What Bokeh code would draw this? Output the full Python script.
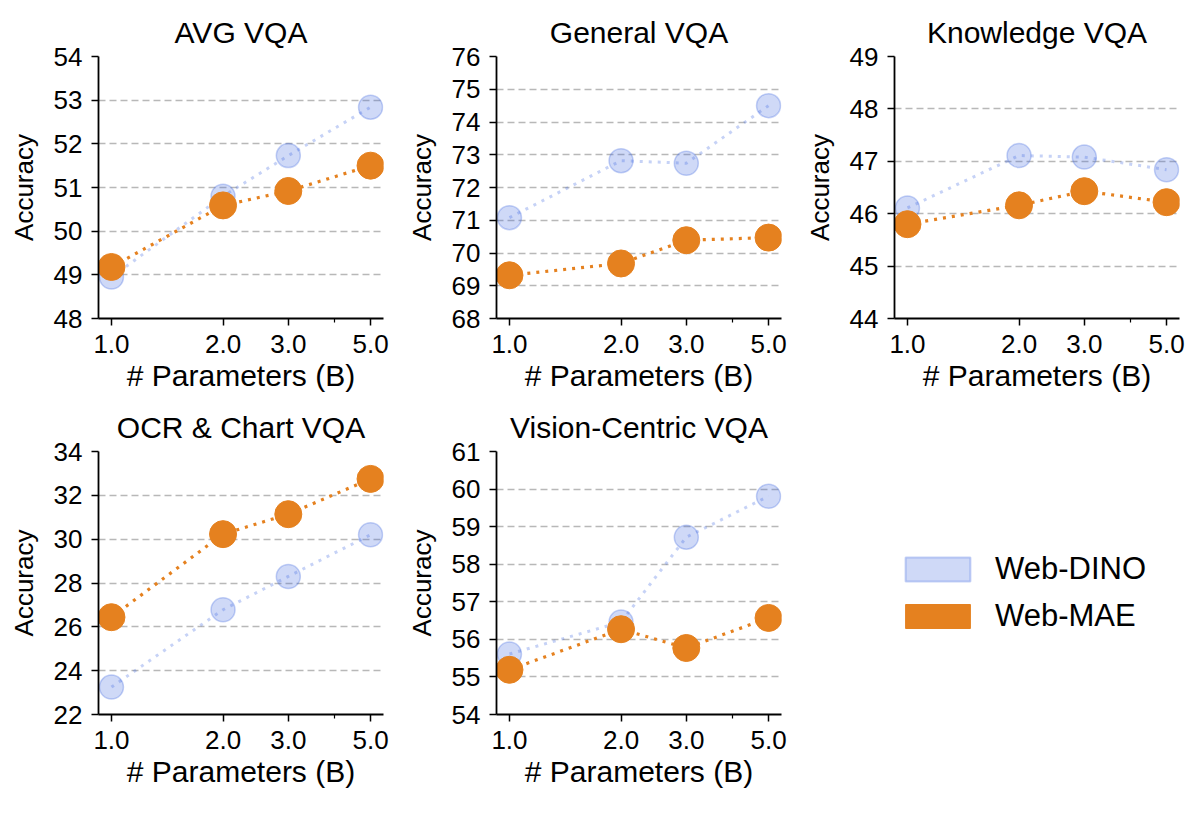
import math

from bokeh.embed import file_html
from bokeh.layouts import column, row
from bokeh.models import FixedTicker, Legend, LegendItem, PrintfTickFormatter, Range1d
from bokeh.plotting import figure
from bokeh.resources import INLINE

# Model sizes (billions of parameters)
params = [1.0, 2.0, 3.0, 5.0]

# Panel titles and y limits
titles = ["AVG VQA", "General VQA", "Knowledge VQA", "OCR & Chart VQA", "Vision-Centric VQA"]
y_limits = [(48, 54), (68, 76), (44, 49), (22, 34), (54, 61)]
y_steps = [1, 1, 1, 2, 1]

# Accuracy per benchmark group
avg_dino = [48.95, 50.80, 51.73, 52.84]
avg_mae = [49.18, 50.59, 50.92, 51.50]
general_dino = [71.08, 72.82, 72.74, 74.50]
general_mae = [69.32, 69.68, 70.39, 70.47]
knowledge_dino = [46.11, 47.11, 47.08, 46.84]
knowledge_mae = [45.80, 46.16, 46.43, 46.22]
ocr_dino = [23.25, 26.78, 28.30, 30.20]
ocr_mae = [26.44, 30.23, 31.14, 32.75]
vision_dino = [55.61, 56.46, 58.72, 59.81]
vision_mae = [55.19, 56.27, 55.77, 56.57]

series_dino = [avg_dino, general_dino, knowledge_dino, ocr_dino, vision_dino]
series_mae = [avg_mae, general_mae, knowledge_mae, ocr_mae, vision_mae]
legend_labels = ["Web-DINO", "Web-MAE"]

FONT = "Liberation Sans"
DINO_COLOR = "royalblue"
MAE_COLOR = "#E5811F"

# log-x padding like matplotlib's 5% margin
log_span = math.log10(max(params) / min(params))
x_start = min(params) / 10 ** (0.05 * log_span)
x_end = max(params) * 10 ** (0.05 * log_span)

col_widths = [399, 398, 403]
col_left = [98, 97, 97]
row_heights = [400, 413]
row_top = [56, 51]
row_frame_h = [262, 263]
FRAME_W = 285


def make_panel(i):
    r, c = divmod(i, 3)
    w, h = col_widths[c], row_heights[r]
    lo, hi = y_limits[i]
    p = figure(
        width=w, height=h, x_axis_type="log",
        x_range=Range1d(x_start, x_end), y_range=Range1d(lo, hi),
        output_backend="svg", toolbar_location=None,
        min_border_left=col_left[c], min_border_right=w - col_left[c] - FRAME_W,
        min_border_top=row_top[r], min_border_bottom=h - row_top[r] - row_frame_h[r],
        title=titles[i],
    )
    p.outline_line_color = None
    p.background_fill_color = "white"
    p.border_fill_color = "white"

    p.title.align = "center"
    p.title.text_font = FONT
    p.title.text_font_size = "30px"
    p.title.text_font_style = "normal"
    p.title.text_color = "black"
    p.title.text_line_height = 1.0
    p.title.standoff = 15

    # x axis
    xa = p.xaxis[0]
    xa.ticker = FixedTicker(ticks=params, minor_ticks=[4.0])
    xa.formatter = PrintfTickFormatter(format="%.1f")
    xa.axis_label = "# Parameters (B)"
    # y axis
    ya = p.yaxis[0]
    ya.ticker = FixedTicker(ticks=list(range(lo, hi + 1, y_steps[i])), minor_ticks=[])
    ya.axis_label = "Accuracy"

    for ax in (xa, ya):
        ax.axis_line_width = 1.8
        ax.axis_line_color = "black"
        ax.major_tick_line_width = 1.5
        ax.major_tick_line_color = "black"
        ax.major_tick_out = 7
        ax.major_tick_in = 0
        ax.minor_tick_line_width = 1.2
        ax.minor_tick_line_color = "black"
        ax.minor_tick_out = 4
        ax.minor_tick_in = 0
        ax.major_label_text_font = FONT
        ax.major_label_text_color = "black"
        ax.major_label_text_font_size = "26px"
        ax.major_label_text_line_height = 1.0
        ax.axis_label_text_font = FONT
        ax.axis_label_text_font_style = "normal"
        ax.axis_label_text_color = "black"
        ax.axis_label_text_line_height = 1.0

    xa.major_label_standoff = 9
    xa.axis_label_text_font_size = "30px"
    xa.axis_label_standoff = 3
    ya.major_label_standoff = 9
    ya.axis_label_text_font_size = "26px"
    ya.axis_label_standoff = 12

    p.xgrid.visible = False
    p.ygrid.grid_line_color = "#b8b8b8"
    p.ygrid.grid_line_width = 1.4
    p.ygrid.grid_line_dash = "7 4"

    dino = series_dino[i]
    mae = series_mae[i]
    p.line(params, dino, line_color=DINO_COLOR, line_alpha=0.3, line_width=3, line_dash="3 6")
    p.scatter(params, dino, marker="circle", size=24, fill_color=DINO_COLOR, fill_alpha=0.25,
              line_color=DINO_COLOR, line_alpha=0.3, line_width=1.5)
    p.line(params, mae, line_color=MAE_COLOR, line_width=3.2, line_dash="3 6")
    p.scatter(params, mae, marker="circle", size=27, fill_color=MAE_COLOR,
              line_color=MAE_COLOR, line_width=1)
    return p


panels = [make_panel(i) for i in range(5)]

# legend cell (its frame lines up with the neighbouring panels' frames)
lw, lh = col_widths[2], row_heights[1]
leg_fig = figure(width=lw, height=lh, output_backend="svg", toolbar_location=None,
                 x_axis_location=None, y_axis_location=None,
                 min_border=0, x_range=Range1d(0, 1), y_range=Range1d(0, 1))
leg_fig.outline_line_color = None
leg_fig.grid.visible = False
nan = [math.nan]
r_dino = leg_fig.quad(left=nan, right=nan, top=nan, bottom=nan, fill_color=DINO_COLOR,
                      fill_alpha=0.25, line_color=DINO_COLOR, line_alpha=0.3, line_width=2)
r_mae = leg_fig.quad(left=nan, right=nan, top=nan, bottom=nan, fill_color=MAE_COLOR,
                     line_color=MAE_COLOR, line_width=1)
# area legend glyphs are inset by 10% on each side, so the boxes are sized up
legend = Legend(
    items=[LegendItem(label=legend_labels[0], renderers=[r_dino]),
           LegendItem(label=legend_labels[1], renderers=[r_mae])],
    location=(100, 80), glyph_width=81, glyph_height=30, label_height=24,
    spacing=11, label_standoff=17, padding=0, margin=0,
    label_text_font=FONT, label_text_font_size="31px", label_text_color="black",
    label_text_line_height=1.0,
    border_line_alpha=0, background_fill_alpha=0,
)
leg_fig.add_layout(legend, "center")

layout = column(row(*panels[:3]), row(panels[3], panels[4], leg_fig))

open("out.html", "w").write(file_html(layout, INLINE))
